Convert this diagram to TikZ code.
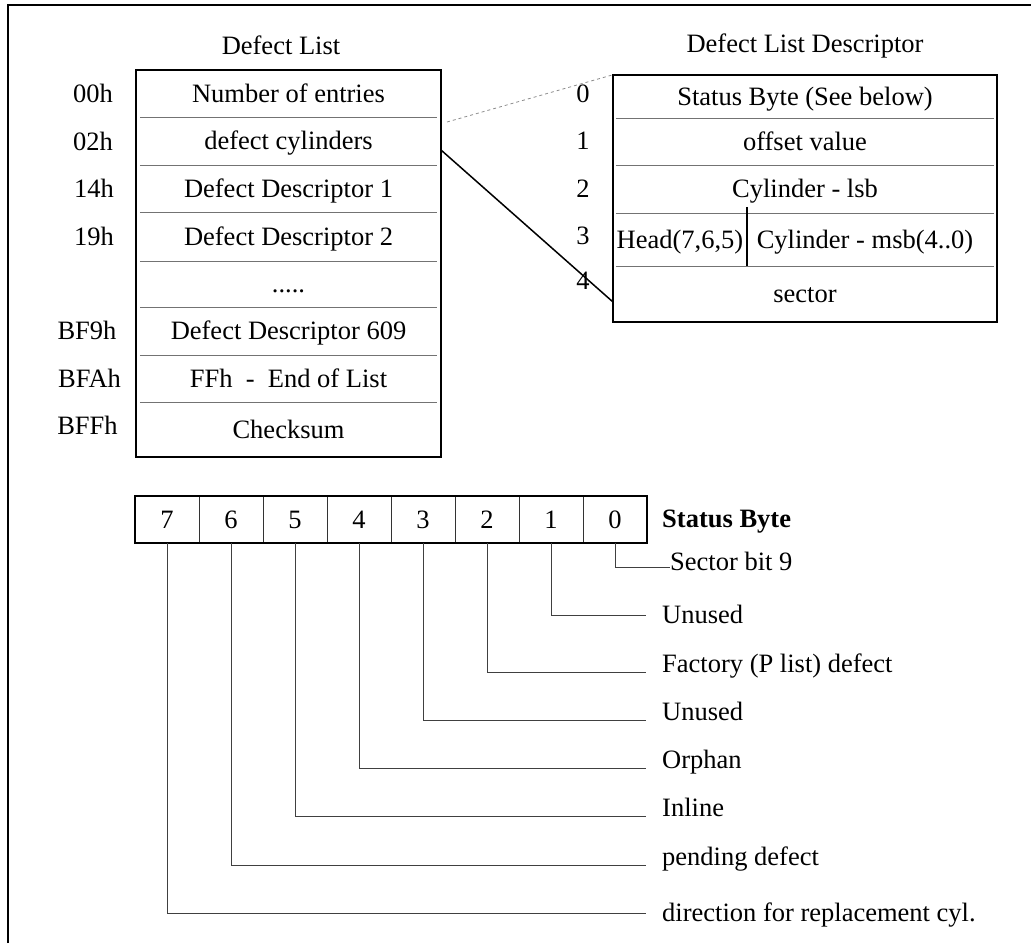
\documentclass[tikz,border=0pt]{standalone}
\usepackage{fontspec}
\setmainfont{Liberation Serif}
\begin{document}
\begin{tikzpicture}[x=1pt,y=-1pt,
  every node/.style={font=\fontsize{26.5}{30}\selectfont, inner sep=0pt},
  boxline/.style={line width=2.2pt, black},
  sepline/.style={line width=0.9pt, black!55},
  cell/.style={minimum width=#1, text height=18.5pt, text depth=1pt},
  bitcell/.style={minimum width=64pt, minimum height=47pt, text height=18.5pt, text depth=1pt},
  leader/.style={line width=0.9pt, black!75},
  lbl/.style={anchor=base west, inner xsep=16pt},
  zoomline/.style={line width=1.5pt, black},
  dotline/.style={line width=0.8pt, black!45, dash pattern=on 3pt off 3pt}
]
\useasboundingbox (0,0) rectangle (1031,943);
% outer frame (cropped at right and bottom)
\draw[line width=2pt] (8,943) -- (8,5) -- (1031,5);

% ---------- Defect List ----------
\node[anchor=base] (dltitle) at (281,54) {Defect List};
\node[cell=305pt, minimum height=47pt] (r0) at (288.5,93.5) {Number of entries};
\node[cell=305pt, minimum height=48pt] (r1) at (288.5,141) {defect cylinders};
\node[cell=305pt, minimum height=47pt] (r2) at (288.5,188.5) {Defect Descriptor 1};
\node[cell=305pt, minimum height=49pt] (r3) at (288.5,236.5) {Defect Descriptor 2};
\node[cell=305pt, minimum height=46pt] (r4) at (288.5,284) {.....};
\node[cell=305pt, minimum height=48pt] (r5) at (288.5,331) {Defect Descriptor 609};
\node[cell=305pt, minimum height=47pt] (r6) at (288.5,378.5) {FFh \ - \ End of List};
\node[cell=305pt, minimum height=55pt] (r7) at (288.5,429.5) {Checksum};
\foreach \r in {r0,r1,r2,r3,r4,r5,r6}
  \draw[sepline] ([xshift=4pt]\r.south west) -- ([xshift=-4pt]\r.south east);
\draw[boxline] (r0.north west) rectangle (r7.south east);

\node[anchor=base] (o0) at (93,102) {00h};
\node[anchor=base] (o1) at (93,150) {02h};
\node[anchor=base] (o2) at (94,197) {14h};
\node[anchor=base] (o3) at (94,245) {19h};
\node[anchor=base] (o5) at (87,339) {BF9h};
\node[anchor=base] (o6) at (89.5,387) {BFAh};
\node[anchor=base] (o7) at (87.5,434) {BFFh};

% ---------- Defect List Descriptor ----------
\node[anchor=base] (ddtitle) at (805,52) {Defect List Descriptor};
\node[cell=384pt, minimum height=43pt] (d0) at (805,96.5) {Status Byte (See below)};
\node[cell=384pt, minimum height=47pt] (d1) at (805,141.5) {offset value};
\node[cell=384pt, minimum height=48pt] (d2) at (805,189) {Cylinder - lsb};
\node[cell=134pt, minimum height=53pt] (d3a) at (680,239.5) {Head(7,6,5)};
\node[cell=250pt, minimum height=53pt] (d3b) at (872,239.5) {\hspace*{-14pt}Cylinder - msb(4..0)};
\node[cell=384pt, minimum height=56pt] (d4) at (805,294) {sector};
\foreach \r in {d0,d1,d2}
  \draw[sepline] ([xshift=3pt]\r.south west) -- ([xshift=-3pt]\r.south east);
\draw[sepline] ([xshift=3pt]d3a.south west) -- ([xshift=-3pt]d3b.south east);
\draw[line width=1.5pt] ([yshift=6pt]d3a.north east) -- (d3a.south east);
\draw[boxline] (d0.north west) rectangle (d4.south east);

\node[anchor=base] (n0) at (583,102) {0};
\node[anchor=base] (n1) at (583,149) {1};
\node[anchor=base] (n2) at (583,197) {2};
\node[anchor=base] (n3) at (583,244) {3};
\node[anchor=base] (n4) at (583,289) {4};

% zoom connectors
\coordinate (dotstart) at (447,122);
\coordinate (solstart) at (441,150);
\coordinate (solend) at (613,302);
\draw[dotline] (dotstart) -- (d0.north west);
\draw[zoomline] (solstart) -- (solend);

% ---------- Status Byte ----------
\node[bitcell] (b7) at (167,519.5) {7};
\node[bitcell] (b6) at (231,519.5) {6};
\node[bitcell] (b5) at (295,519.5) {5};
\node[bitcell] (b4) at (359,519.5) {4};
\node[bitcell] (b3) at (423,519.5) {3};
\node[bitcell] (b2) at (487,519.5) {2};
\node[bitcell] (b1) at (551,519.5) {1};
\node[bitcell] (b0) at (615,519.5) {0};
\foreach \b in {b7,b6,b5,b4,b3,b2,b1}
  \draw[line width=1pt, black!80] (\b.north east) -- (\b.south east);
\draw[boxline] (b7.north west) rectangle (b0.south east);
\node[anchor=base west, font=\fontsize{26.5}{30}\selectfont\bfseries] (sbt) at (662,527) {Status Byte};

\node[anchor=base west] (l0) at (670,570) {Sector bit 9};
\node[lbl] (l1) at (646,623) {Unused};
\node[lbl] (l2) at (646,672) {Factory (P list) defect};
\node[lbl] (l3) at (646,720) {Unused};
\node[lbl] (l4) at (646,768) {Orphan};
\node[lbl] (l5) at (646,816) {Inline};
\node[lbl] (l6) at (646,865) {pending defect};
\node[lbl] (l7) at (646,921) {direction for replacement cyl.};

\draw[leader] (b0.south) |- ([yshift=3pt]l0.base west);
\draw[leader] (b1.south) |- ([yshift=8pt]l1.base west);
\foreach \i in {2,...,6}
  \draw[leader] (b\i.south) |- (l\i.base west);
\draw[leader] (b7.south) |- ([yshift=8pt]l7.base west);
\end{tikzpicture}
\end{document}
